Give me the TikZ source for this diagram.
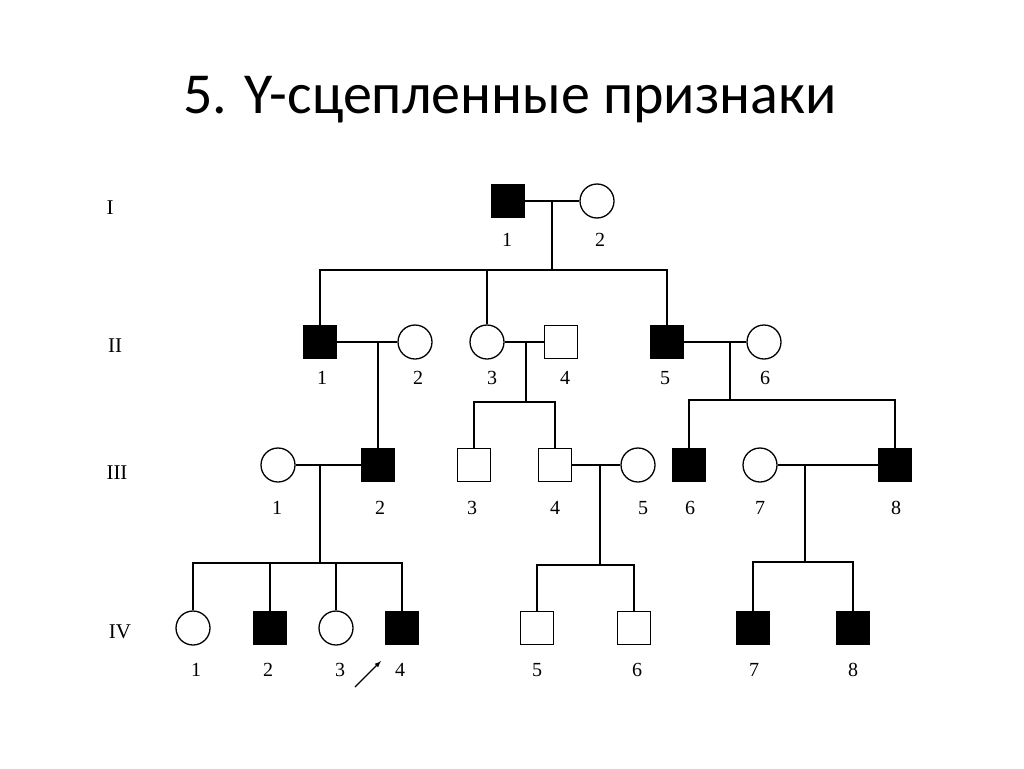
\documentclass[tikz,border=0pt]{standalone}
\usepackage{fontspec}
\setmainfont{Liberation Serif}
\newfontfamily\titlefont{Carlito}
\begin{document}
\begin{tikzpicture}[x=1pt,y=-1pt,line width=1.3pt,
  sq/.style={draw,rectangle,minimum size=33pt,inner sep=0pt},
  af/.style={sq,fill=black},
  ci/.style={draw,circle,minimum size=34pt,inner sep=0pt},
  lab/.style={font=\fontsize{20}{20}\selectfont},
  gen/.style={font=\fontsize{21}{21}\selectfont}]
\useasboundingbox (0,0) rectangle (1024,768);
\node[font=\titlefont\fontsize{58}{58}\selectfont] (title) at (510,100) {5. Y-сцепленные признаки};
% generation labels
\node[gen] (gI) at (110,208) {I};
\node[gen] (gII) at (115,346) {II};
\node[gen] (gIII) at (117,473) {III};
\node[gen] (gIV) at (120,632) {IV};
% Gen I
\node[af] (a1) at (508,201) {};
\node[ci] (a2) at (597,201) {};
\node[lab] at (507,240) {1};\node[lab] at (600,240) {2};
% Gen II
\node[af] (b1) at (320,342) {};
\node[ci] (b2) at (415,342) {};
\node[ci] (b3) at (487,342) {};
\node[sq] (b4) at (561,342) {};
\node[af] (b5) at (667,342) {};
\node[ci] (b6) at (764,342) {};
\foreach \x/\t in {322/1,418/2,492/3,565/4,665/5,765/6}{\node[lab] at (\x,378) {\t};}
% Gen III
\node[ci] (c1) at (278,465) {};
\node[af] (c2) at (378,465) {};
\node[sq] (c3) at (474,465) {};
\node[sq] (c4) at (555,465) {};
\node[ci] (c5) at (638,465) {};
\node[af] (c6) at (689,465) {};
\node[ci] (c7) at (760,465) {};
\node[af] (c8) at (895,465) {};
\foreach \x/\t in {277/1,380/2,472/3,555/4,643/5,690/6,760/7,896/8}{\node[lab] at (\x,508) {\t};}
% Gen IV
\node[ci] (d1) at (193,628) {};
\node[af] (d2) at (270,628) {};
\node[ci] (d3) at (336,628) {};
\node[af] (d4) at (402,628) {};
\node[sq] (d5) at (537,628) {};
\node[sq] (d6) at (634,628) {};
\node[af] (d7) at (753,628) {};
\node[af] (d8) at (853,628) {};
\foreach \x/\t in {196/1,268/2,340/3,400/4,537/5,637/6,754/7,853/8}{\node[lab] at (\x,670) {\t};}
% marriages & sibships
\draw (a1) -- (a2);
\draw (552,201) -- (552,270);
\draw (b1.north) |- (552,270) -| (b5.north);
\draw (b3.north) -- (487,270);
\draw (b1) -- (b2);
\draw (378,342) -- (c2.north);
\draw (b3) -- (b4);
\draw (526,342) -- (526,402);
\draw (c3.north) |- (526,402) -| (c4.north);
\draw (b5) -- (b6);
\draw (730,342) -- (730,400);
\draw (c6.north) |- (730,400) -| (c8.north);
\draw (c1) -- (c2);
\draw (320,465) -- (320,563);
\draw (d1.north) |- (320,563) -| (d4.north);
\draw (d2.north) -- (270,563);
\draw (d3.north) -- (336,563);
\draw (c4) -- (c5);
\draw (600,465) -- (600,565);
\draw (d5.north) |- (600,565) -| (d6.north);
\draw (c7) -- (c8);
\draw (805,465) -- (805,562);
\draw (d7.north) |- (805,562) -| (d8.north);
% proband arrow
\coordinate (pa) at (355,687);
\draw[-latex,line width=1.2pt] (pa) -- (381,661);
\end{tikzpicture}
\end{document}
